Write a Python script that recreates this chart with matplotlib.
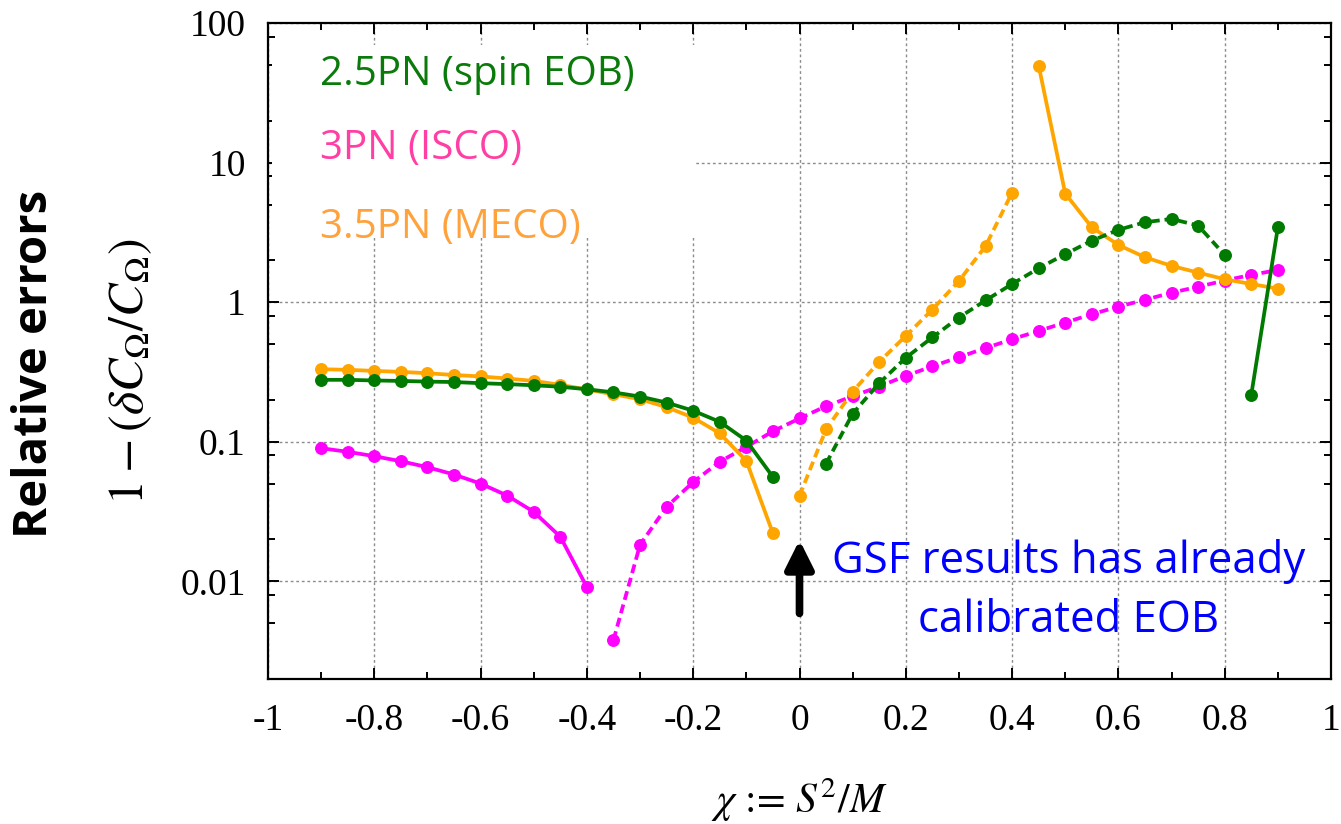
import matplotlib
matplotlib.use("Agg")
import matplotlib.pyplot as plt
from matplotlib.ticker import LogLocator, FixedLocator, NullFormatter
from matplotlib.patches import Rectangle

# ---------------- data ----------------
x_left = [-0.9, -0.85, -0.8, -0.75, -0.7, -0.65, -0.6, -0.55, -0.5, -0.45,
          -0.4, -0.35, -0.3, -0.25, -0.2, -0.15, -0.1, -0.05]
green_left = [0.278, 0.278, 0.275, 0.273, 0.270, 0.268, 0.263, 0.259, 0.254, 0.248,
              0.238, 0.226, 0.211, 0.191, 0.167, 0.139, 0.102, 0.056]
orange_left = [0.331, 0.328, 0.322, 0.317, 0.310, 0.301, 0.294, 0.284, 0.273, 0.256,
               0.237, 0.219, 0.202, 0.177, 0.149, 0.115, 0.073, 0.0221]

x_green_dash = [0.05, 0.1, 0.15, 0.2, 0.25, 0.3, 0.35, 0.4, 0.45, 0.5, 0.55, 0.6,
                0.65, 0.7, 0.75, 0.8]
green_dash = [0.0698, 0.159, 0.263, 0.40, 0.56, 0.777, 1.03, 1.35, 1.75, 2.21, 2.76,
              3.3, 3.74, 3.95, 3.54, 2.18]
x_green_end = [0.85, 0.9]
green_end = [0.217, 3.43]

x_mag_solid = [-0.9, -0.85, -0.8, -0.75, -0.7, -0.65, -0.6, -0.55, -0.5, -0.45, -0.4]
mag_solid = [0.090, 0.0848, 0.0789, 0.0726, 0.0658, 0.0583, 0.0502, 0.0412, 0.0315,
             0.0209, 0.0091]
x_mag_dash = [-0.35, -0.3, -0.25, -0.2, -0.15, -0.1, -0.05, 0.0, 0.05, 0.1, 0.15, 0.2,
              0.25, 0.3, 0.35, 0.4, 0.45, 0.5, 0.55, 0.6, 0.65, 0.7, 0.75, 0.8, 0.85, 0.9]
mag_dash = [0.00381, 0.0183, 0.0342, 0.0515, 0.0720, 0.092, 0.119, 0.147, 0.180, 0.212,
            0.249, 0.297, 0.347, 0.404, 0.469, 0.543, 0.623, 0.715, 0.82, 0.93, 1.04,
            1.17, 1.29, 1.43, 1.57, 1.70]

x_orange_dash = [0.0, 0.05, 0.1, 0.15, 0.2, 0.25, 0.3, 0.35, 0.4]
orange_dash = [0.041, 0.123, 0.229, 0.374, 0.574, 0.886, 1.42, 2.52, 6.1]
x_orange_right = [0.45, 0.5, 0.55, 0.6, 0.65, 0.7, 0.75, 0.8, 0.85, 0.9]
orange_right = [49.5, 6.0, 3.44, 2.57, 2.10, 1.82, 1.63, 1.46, 1.35, 1.25]

x_ticks = [-1, -0.8, -0.6, -0.4, -0.2, 0, 0.2, 0.4, 0.6, 0.8, 1]
x_ticklabels = ["-1", "-0.8", "-0.6", "-0.4", "-0.2", "0", "0.2", "0.4", "0.6", "0.8", "1"]
y_ticks = [0.01, 0.1, 1, 10, 100]
y_ticklabels = ["0.01", "0.1", "1", "10", "100"]

legend_labels = ["2.5PN (spin EOB)", "3PN (ISCO)", "3.5PN (MECO)"]

# ---------------- style ----------------
plt.rcParams['mathtext.fontset'] = 'stix'
GREEN = '#007a00'
MAG = '#ff00ff'
ORANGE = '#ffa500'
DASH = (0, (2.4, 1.3))

W, H = 1341, 824
fig = plt.figure(figsize=(W / 100, H / 100), dpi=100)
L, R, T, B = 268, 1331, 23, 679
ax = fig.add_axes([L / W, 1 - B / H, (R - L) / W, (B - T) / H])

ax.set_xlim(-1, 1)
ax.set_yscale('log')
ax.set_ylim(0.002, 100)

lw = 2.7
ms = 8.3
kw = dict(marker='o', markersize=ms, lw=lw, zorder=3)
ax.plot(x_mag_solid, mag_solid, color=MAG, ls='-', **kw)
ax.plot(x_mag_dash, mag_dash, color=MAG, ls=DASH, **kw)
ax.plot(x_left, orange_left, color=ORANGE, ls='-', **kw)
ax.plot(x_orange_dash, orange_dash, color=ORANGE, ls=DASH, **kw)
ax.plot(x_orange_right, orange_right, color=ORANGE, ls='-', **kw)
ax.plot(x_left, green_left, color=GREEN, ls='-', **kw)
ax.plot(x_green_dash, green_dash, color=GREEN, ls=DASH, **kw)
ax.plot(x_green_end, green_end, color=GREEN, ls='-', **kw)

# ticks
ax.set_xticks(x_ticks)
ax.set_xticklabels(x_ticklabels)
ax.xaxis.set_minor_locator(FixedLocator([-0.9, -0.7, -0.5, -0.3, -0.1, 0.1, 0.3, 0.5, 0.7, 0.9]))
ax.set_yticks(y_ticks)
ax.set_yticklabels(y_ticklabels)
ax.yaxis.set_minor_locator(LogLocator(base=10, subs=[2, 5, 8], numticks=20))
ax.yaxis.set_minor_formatter(NullFormatter())

ax.tick_params(which='both', direction='in', top=True, right=True, width=1.4, color='black')
ax.tick_params(which='major', length=8)
ax.tick_params(which='minor', length=5)
ax.tick_params(axis='x', which='major', pad=18)
ax.tick_params(axis='y', which='major', pad=16)
for lab in ax.get_xticklabels() + ax.get_yticklabels():
    lab.set_fontfamily('Liberation Serif')
    lab.set_fontsize(27)

for s in ax.spines.values():
    s.set_linewidth(1.6)

ax.grid(True, which='major', color='#8c8c8c', ls=(0, (2, 2)), lw=1.0, zorder=0.5)
ax.set_axisbelow(True)

# white box behind legend texts
x0 = (272 - L) / (R - L)
x1 = (696 - L) / (R - L)
y0 = (B - 238) / (B - T)
y1 = (B - 45) / (B - T)
ax.add_patch(Rectangle((x0, y0), x1 - x0, y1 - y0, transform=ax.transAxes,
                       facecolor='white', edgecolor='none', zorder=1))

leg_colors = ['#0a7a0a', '#ff3fa4', '#ffa23c']
leg_base = [85, 159, 238]
for lab, c, yb in zip(legend_labels, leg_colors, leg_base):
    ax.text((320 - L) / (R - L), (B - yb) / (B - T), lab, transform=ax.transAxes,
            color=c, fontsize=29, family='Open Sans', ha='left', va='baseline', zorder=4)

# annotation arrow + text
ax.annotate('', xy=(0, 0.0198), xytext=(0, 0.0059),
            arrowprops=dict(arrowstyle='-|>', lw=5.5, color='black', mutation_scale=42,
                            shrinkA=0, shrinkB=0), zorder=5)
ax.text((1069 - L) / (R - L), (B - 573) / (B - T), "GSF results has already",
        transform=ax.transAxes, color='#0000ff', fontsize=31.5, family='Open Sans',
        ha='center', va='baseline', zorder=5)
ax.text((1069 - L) / (R - L), (B - 632) / (B - T), "calibrated EOB",
        transform=ax.transAxes, color='#0000ff', fontsize=31.5, family='Open Sans',
        ha='center', va='baseline', zorder=5)

# axis labels
fig.text(35 / W, 1 - 364 / H, "Relative errors", rotation=90, ha='center', va='center',
         fontsize=34, fontweight='bold', family='Open Sans')
fig.text(130 / W, 1 - 372 / H, r"$1-(\delta C_\Omega/C_\Omega)$", rotation=90,
         ha='center', va='center', fontsize=36)
fig.text((L + R) / 2 / W, 1 - 800 / H, r"$\chi$ := $S^2/M$", ha='center', va='center',
         fontsize=30, family='STIXGeneral')

fig.savefig('out.png', dpi=100)
